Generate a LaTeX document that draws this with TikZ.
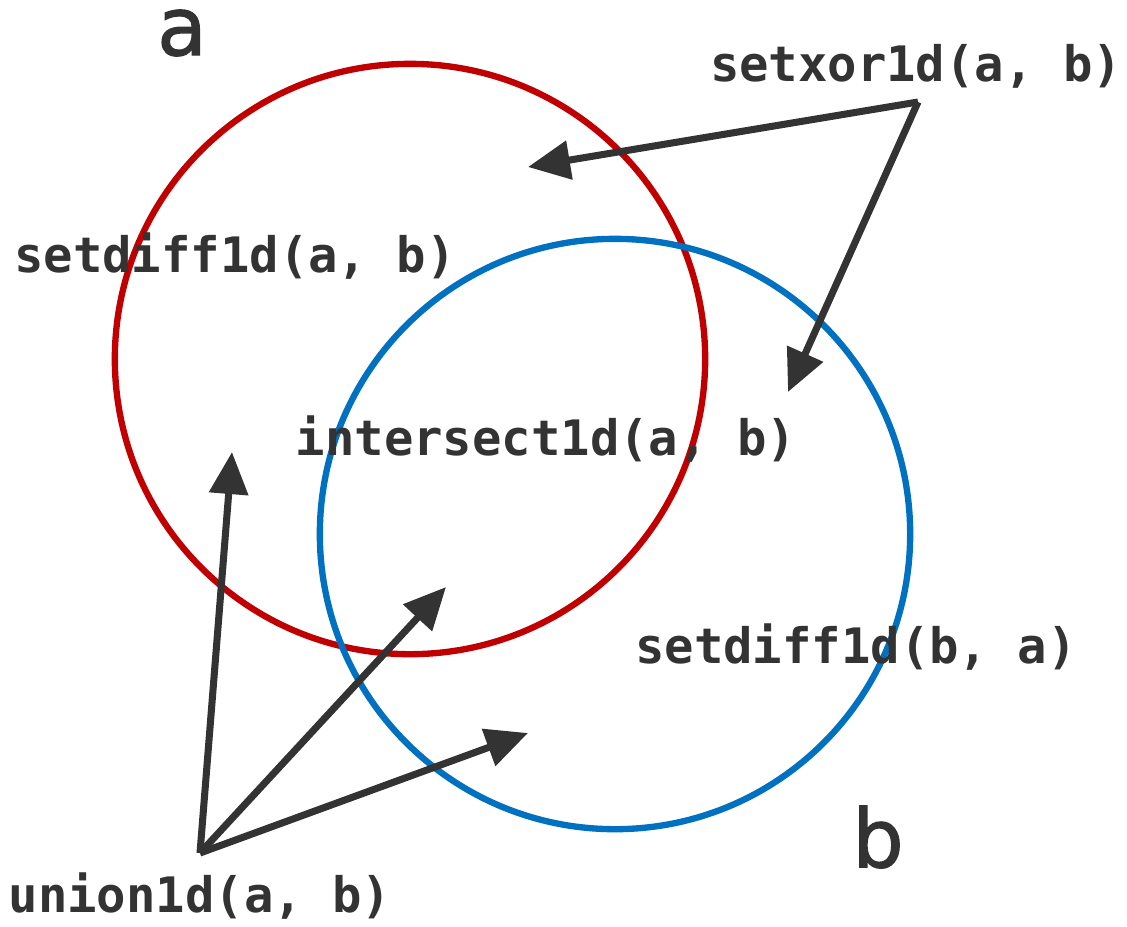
\documentclass[tikz,border=0pt]{standalone}
\usepackage{fontspec}
\setmonofont{DejaVu Sans Mono}
\newfontfamily\namefont{DejaVu Sans}[FakeBold=1.6]
\usetikzlibrary{arrows.meta}
\definecolor{setred}{RGB}{192,0,0}
\definecolor{setblue}{RGB}{0,112,192}
\definecolor{inkgray}{RGB}{51,51,51}

\begin{document}
\begin{tikzpicture}[x=0.01cm, y=-0.01cm,
  setring/.style={circle, line width=1.8pt, minimum size=5.9cm, inner sep=0pt},
  funclabel/.style={inkgray, anchor=base, font=\ttfamily\bfseries\fontsize{13.9}{16}\selectfont},
  setname/.style={inkgray, inner sep=0pt, font=\namefont\fontsize{23}{28}\selectfont},
  pointer/.style={draw=inkgray, line width=2pt, -{Triangle[length=0.42cm, width=0.38cm]}}]

\useasboundingbox (0,0) rectangle (1127,926);

% The two sets
\node[setring, draw=setred]  (seta) at (410,359) {};
\node[setring, draw=setblue] (setb) at (615,534) {};
\node[setname] (namea) at (182,33)  {a};
\node[setname] (nameb) at (878,837) {b};

% Function labels
\node[funclabel] (xor)   at (916,81)  {setxor1d(a, b)};
\node[funclabel] (diffa) at (235,272) {setdiff1d(a, b)};
\node[funclabel] (inter) at (546,455) {intersect1d(a, b)};
\node[funclabel] (diffb) at (856,663) {setdiff1d(b, a)};
\node[funclabel] (union) at (200,912) {union1d(a, b)};

% Pointer ends
\coordinate (xorsrc)   at (918,102);
\coordinate (unionsrc) at (200,853);
\coordinate (xorA)   at (528,167);
\coordinate (xorB)   at (788,392);
\coordinate (unionA) at (232,452);
\coordinate (unionI) at (446,587);
\coordinate (unionB) at (528,733);

% Arrows
\foreach \tip in {xorA,xorB} {
  \draw[pointer] (xorsrc) -- (\tip);
}
\foreach \tip in {unionA,unionI,unionB} {
  \draw[pointer] (unionsrc) -- (\tip);
}

\end{tikzpicture}
\end{document}
